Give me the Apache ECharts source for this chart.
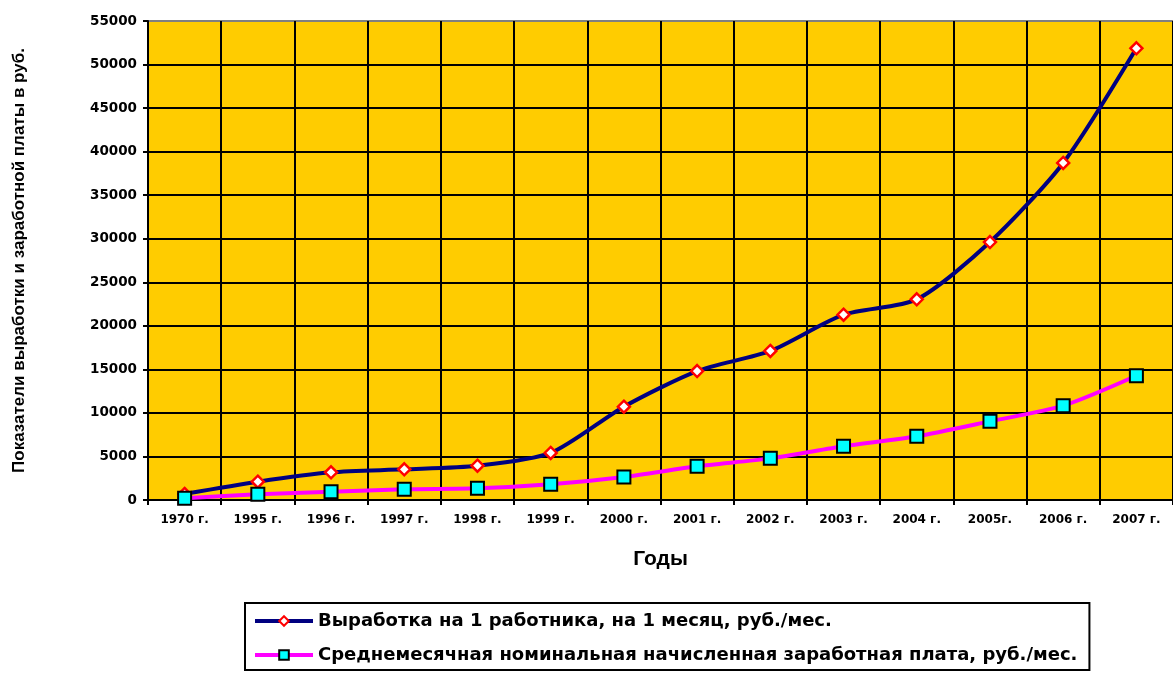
<!DOCTYPE html>
<html>
<head>
<meta charset="utf-8">
<script src="https://cdn.jsdelivr.net/npm/echarts@6/dist/echarts.min.js"></script>
<style>
  html, body { margin: 0; padding: 0; background: #fff; }
  #main { width: 1173px; height: 673px; }
</style>
</head>
<body>
<div id="main"></div>
<script>
let years = ['1970 г.', '1995 г.', '1996 г.', '1997 г.', '1998 г.', '1999 г.', '2000 г.',
    '2001 г.', '2002 г.', '2003 г.', '2004 г.', '2005г.', '2006 г.', '2007 г.'];
let outputPerWorker = [700, 2100, 3180, 3520, 3940, 5400, 10710, 14800, 17110, 21280, 23040, 29620, 38700, 51870];
let avgWage = [200, 650, 950, 1230, 1340, 1800, 2640, 3870, 4780, 6160, 7310, 9030, 10830, 14270];
let seriesNames = {
    output: 'Выработка на 1 работника, на 1 месяц, руб./мес.',
    wage: 'Среднемесячная номинальная начисленная заработная плата, руб./мес.'
};

const font = 'Liberation Sans, Arial, sans-serif';
// the tick labels and legend in the original are wide, DejaVu gets closer
const wideFont = 'DejaVu Sans, sans-serif';

// 12 horizontal lines, the top one is grey like the plot border
let splitColors = [];
for (let i = 0; i < 11; i++) splitColors.push('#000');
splitColors.push('#808080');

const option = {
    animation: false,
    textStyle: { fontFamily: font },
    grid: {
        left: 148, top: 21, right: -8, bottom: 173,
        show: true,
        backgroundColor: '#FFCC00',
        borderColor: '#808080',
        borderWidth: 1
    },
    legend: {
        orient: 'vertical',
        left: 245,
        top: 603,
        itemWidth: 58,
        itemHeight: 12,
        itemGap: 16,
        padding: [9, 12, 6, 8],
        borderColor: '#000',
        borderWidth: 2,
        lineStyle: { width: 4 },
        textStyle: { fontSize: 18, fontWeight: 'bold', color: '#000', fontFamily: wideFont },
        data: [seriesNames.output, seriesNames.wage]
    },
    xAxis: {
        type: 'category',
        data: years,
        boundaryGap: true,
        name: 'Годы',
        nameLocation: 'middle',
        nameGap: 49,
        nameTextStyle: { fontSize: 21, fontWeight: 'bold', color: '#000' },
        axisLine: { lineStyle: { color: '#000', width: 2 } },
        axisTick: { show: true, length: 5, lineStyle: { color: '#000', width: 2 } },
        axisLabel: { fontSize: 12, fontWeight: 'bold', color: '#000', margin: 14, fontFamily: wideFont },
        splitLine: { show: true, lineStyle: { color: '#000', width: 2 } }
    },
    yAxis: {
        type: 'value',
        min: 0,
        max: 55000,
        interval: 5000,
        name: 'Показатели выработки и заработной платы в руб.',
        nameLocation: 'middle',
        nameRotate: 90,
        nameGap: 120,
        nameTextStyle: { fontSize: 17, fontWeight: 'bold', color: '#000' },
        axisLine: { show: true, lineStyle: { color: '#000', width: 2 } },
        axisTick: { show: true, length: 5, lineStyle: { color: '#000', width: 2 } },
        axisLabel: {
            fontSize: 13.5, fontWeight: 'bold', color: '#000', margin: 11, fontFamily: wideFont,
            formatter: value => String(value)
        },
        splitLine: { show: true, lineStyle: { color: splitColors, width: 2 } }
    },
    series: [{
        name: seriesNames.output,
        type: 'line',
        data: outputPerWorker,
        smooth: 0.25,
        symbol: 'diamond',
        symbolSize: 12,
        lineStyle: { color: '#000080', width: 4 },
        itemStyle: { color: '#FFFFFF', borderColor: '#FF0000', borderWidth: 2.5 },
        z: 3
    }, {
        name: seriesNames.wage,
        type: 'line',
        data: avgWage,
        smooth: 0.25,
        symbol: 'rect',
        symbolSize: 13,
        lineStyle: { color: '#FF00FF', width: 4 },
        itemStyle: { color: '#00FFFF', borderColor: '#000', borderWidth: 2 },
        z: 4
    }]
};

let plot = echarts.init(document.querySelector('#main'));
plot.setOption(option);
</script>
</body>
</html>
